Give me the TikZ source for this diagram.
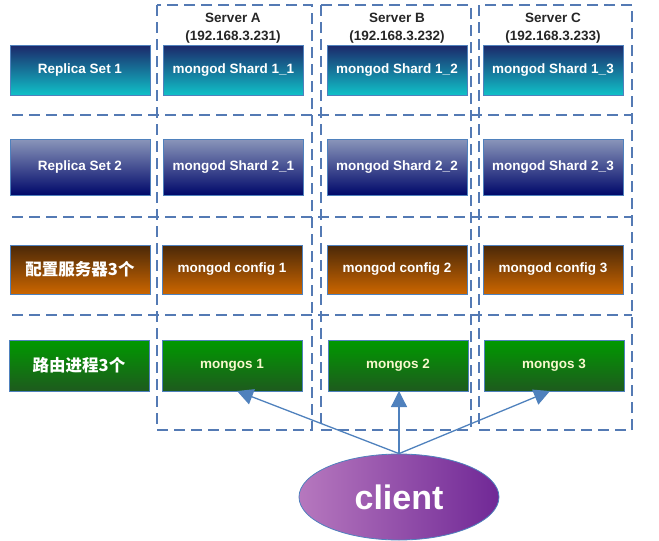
\documentclass[tikz,border=0pt]{standalone}
\usepackage{fontspec}
\setmainfont{Liberation Sans}
\newfontfamily\cjk{Noto Sans CJK SC}
\usetikzlibrary{arrows.meta,shapes.geometric}
\definecolor{dashblue}{RGB}{84,122,180}
\definecolor{bordblue}{RGB}{79,129,189}
\definecolor{aTop}{RGB}{28,40,106}
\definecolor{aBot}{RGB}{16,192,200}
\definecolor{bTop}{RGB}{138,150,186}
\definecolor{bBot}{RGB}{0,8,106}
\definecolor{cTop}{RGB}{74,40,8}
\definecolor{cBot}{RGB}{204,102,0}
\definecolor{dTop}{RGB}{0,154,0}
\definecolor{dBot}{RGB}{30,90,30}
\definecolor{mtext}{RGB}{248,248,205}
\definecolor{cliL}{RGB}{182,120,190}
\definecolor{cliR}{RGB}{112,40,150}
\tikzset{
  x=1pt,y=-1pt,
  box/.style={draw=bordblue,line width=0.9pt,rectangle,minimum width=140pt,
    font=\fontsize{13.5}{15}\selectfont\bfseries,text=white,inner sep=0pt},
  rowa/.style={box,minimum height=50pt,top color=aTop,bottom color=aBot},
  rowb/.style={box,minimum height=56pt,top color=bTop,bottom color=bBot},
  rowc/.style={box,minimum height=49pt,top color=cTop,bottom color=cBot},
  rowd/.style={box,minimum height=51pt,top color=dTop,bottom color=dBot,text=mtext},
  cjklabel/.style={font=\cjk\fontsize{16.5}{18}\selectfont\bfseries,text=white},
  dsh/.style={draw=dashblue,line width=1.2pt,dash pattern=on 11pt off 6pt},
  srv/.style={font=\fontsize{13.5}{15}\selectfont\bfseries,text=black!85,inner sep=0pt},
  arr/.style={draw=bordblue,line width=1.3pt,-{Triangle[length=16pt,width=16pt]}}
}
\begin{document}
\begin{tikzpicture}
\useasboundingbox (0,0) rectangle (659,541);
% server columns
\draw[dsh] (157,5) rectangle (312,430);
\draw[dsh] (321,5) rectangle (471,430);
\draw[dsh] (479,5) rectangle (632,430);
% row separators
\draw[dsh] (12,115) -- (632,115);
\draw[dsh] (12,217) -- (632,217);
\draw[dsh] (12,315) -- (632,315);
% server titles
\node[srv] (sa) at (233,18) {Server A};
\node[srv] (ia) at (233,37) {(192.168.3.231)};
\node[srv] (sb) at (397,18) {Server B};
\node[srv] (ib) at (397,37) {(192.168.3.232)};
\node[srv] (sc) at (553,18) {Server C};
\node[srv] (ic) at (553,37) {(192.168.3.233)};
% row 1
\node[rowa] (r1) at (80,70) {Replica Set 1};
\node[rowa] (s11) at (233.5,70) {mongod Shard 1\_1};
\node[rowa] (s12) at (397,70) {mongod Shard 1\_2};
\node[rowa] (s13) at (553,70) {mongod Shard 1\_3};
% row 2
\node[rowb] (r2) at (80,167) {Replica Set 2};
\node[rowb] (s21) at (233.5,167) {mongod Shard 2\_1};
\node[rowb] (s22) at (397,167) {mongod Shard 2\_2};
\node[rowb] (s23) at (553,167) {mongod Shard 2\_3};
% row 3
\node[rowc,cjklabel] (r3) at (80,269.5) {配置服务器3个};
\node[rowc] (c1) at (232,269.5) {mongod config 1};
\node[rowc] (c2) at (397,269.5) {mongod config 2};
\node[rowc] (c3) at (553,269.5) {mongod config 3};
% row 4
\node[rowd,cjklabel] (r4) at (79,365.5) {路由进程3个};
\node[rowd] (m1) at (232,365.5) {mongos 1};
\node[rowd] (m2) at (398,365.5) {mongos 2};
\node[rowd] (m3) at (554,365.5) {mongos 3};
% client
\node[ellipse,draw=bordblue,line width=0.8pt,minimum width=200pt,minimum height=86pt,
  left color=cliL,right color=cliR,text=white,
  font=\fontsize{34}{36}\selectfont\bfseries] (cl) at (399,497) {client};
\coordinate (t1) at (237,391);
\coordinate (t2) at (399,391);
\coordinate (t3) at (550,391);
\draw[arr] (cl.north) -- (t1);
\draw[arr] (cl.north) -- (t2);
\draw[arr] (cl.north) -- (t3);
\end{tikzpicture}
\end{document}
